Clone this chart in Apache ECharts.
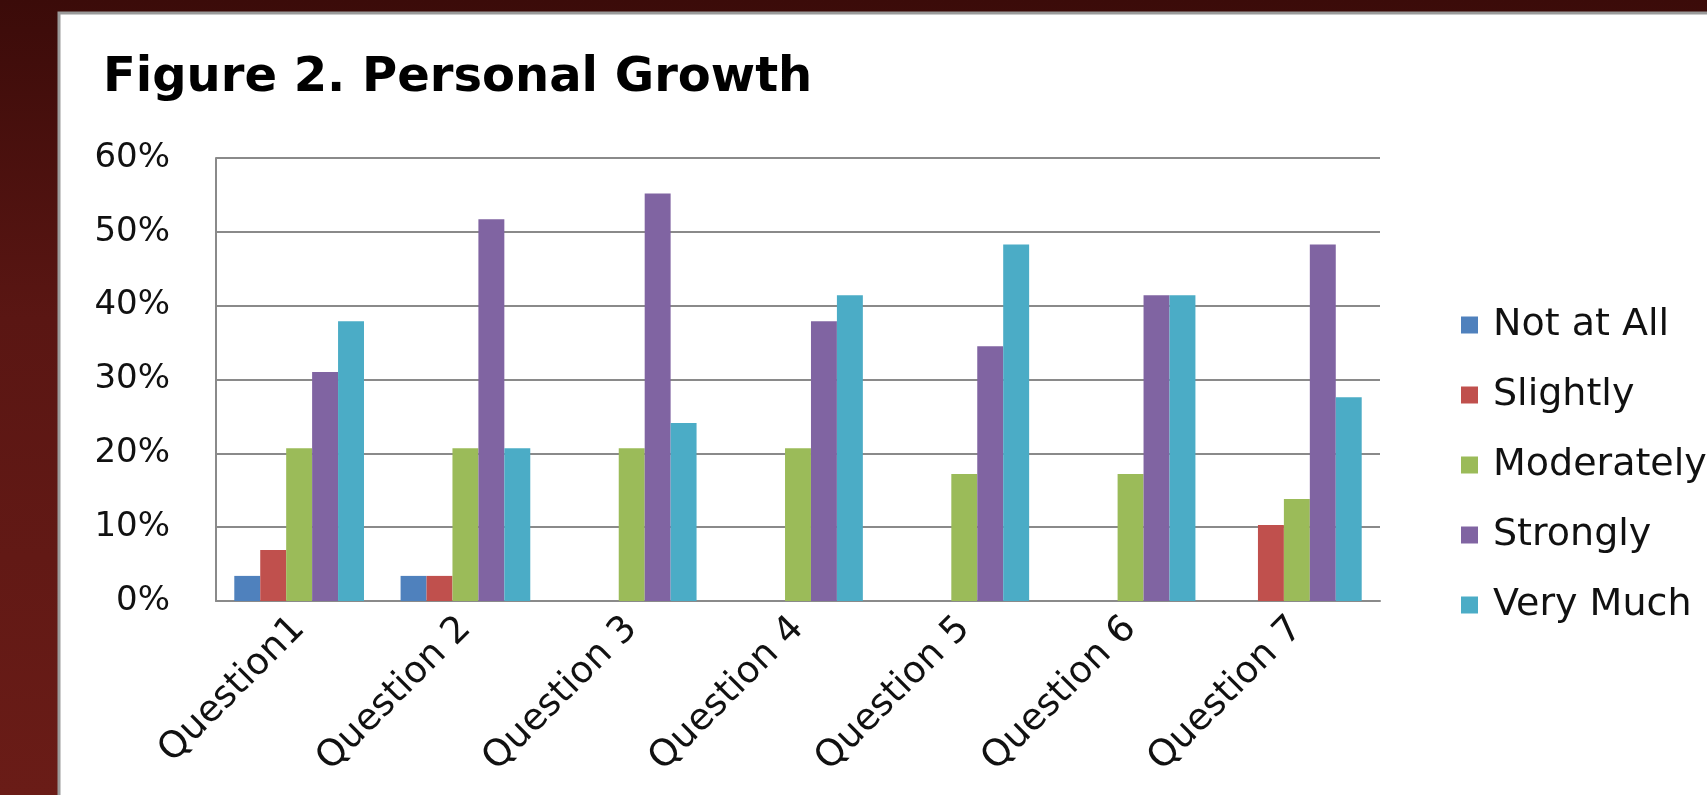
<!DOCTYPE html>
<html>
<head>
<meta charset="utf-8">
<script src="https://cdn.jsdelivr.net/npm/echarts@6/dist/echarts.min.js"></script>
<style>
html,body{margin:0;padding:0;background:#4a1210;}
#chart{width:1707px;height:795px;}
</style>
</head>
<body>
<div id="chart"></div>
<script>
const categories = ['Question1', 'Question 2', 'Question 3', 'Question 4', 'Question 5', 'Question 6', 'Question 7'];
const notAtAll   = [3.4, 3.4, 0, 0, 0, 0, 0];
const slightly   = [6.9, 3.4, 0, 0, 0, 0, 10.3];
const moderately = [20.7, 20.7, 20.7, 20.7, 17.2, 17.2, 13.8];
const strongly   = [31.0, 51.7, 55.2, 37.9, 34.5, 41.4, 48.3];
const veryMuch   = [37.9, 20.7, 24.1, 41.4, 48.3, 41.4, 27.6];
const yTicks = [0, 10, 20, 30, 40, 50, 60];

const seriesDefs = [
  ['Not at All', notAtAll, '#4F81BD'],
  ['Slightly', slightly, '#C0504D'],
  ['Moderately', moderately, '#9BBB59'],
  ['Strongly', strongly, '#8064A2'],
  ['Very Much', veryMuch, '#4BACC6']
];

const chart = echarts.init(document.getElementById('chart'));
chart.setOption({
  animation: false,
  graphic: [
    {type:'rect', z:-10, silent:true, shape:{x:0,y:0,width:1707,height:795},
     style:{fill:new echarts.graphic.LinearGradient(0,0,0,1,[
       {offset:0,color:'#3b0b09'},{offset:0.4,color:'#5a1613'},{offset:1,color:'#6a1c17'}])}},
    {type:'rect', z:-9, silent:true, shape:{x:59,y:13,width:1700,height:820},
     style:{fill:'#ffffff', stroke:'#9a9a9a', lineWidth:3}},
    {type:'text', left:103, top:55, z:10,
     style:{text:'Figure 2. Personal Growth', fontFamily:'DejaVu Sans', fontWeight:'bold', fontSize:48, fill:'#000'}}
  ],
  grid: {left:216, right:327, top:158, bottom:194, containLabel:false},
  legend: {
    orient:'vertical', left:1456, top:300, itemGap:30,
    icon:'rect', itemWidth:17, itemHeight:17,
    textStyle:{fontFamily:'DejaVu Sans', fontSize:38, color:'#111', lineHeight:40, padding:[0,0,0,10]},
    data: seriesDefs.map(d => d[0])
  },
  xAxis: {
    type:'category', data:categories,
    axisLine:{show:true, lineStyle:{color:'#8a8a8a', width:2}},
    axisTick:{show:false},
    axisLabel:{rotate:45, margin:22, fontFamily:'DejaVu Sans', fontSize:37, color:'#111', interval:0}
  },
  yAxis: {
    type:'value', min:0, max:60, interval:10,
    axisLine:{show:true, lineStyle:{color:'#8a8a8a', width:2}},
    axisTick:{show:false},
    splitLine:{show:true, lineStyle:{color:'#8a8a8a', width:2}},
    axisLabel:{margin:46, fontFamily:'DejaVu Sans', fontSize:34, color:'#111',
      formatter: v => yTicks.includes(v) ? v + '%' : ''}
  },
  series: seriesDefs.map(d => ({
    name:d[0], type:'bar', data:d[1], barGap:'0%', barCategoryGap:'22%',
    itemStyle:{color:d[2]}
  }))
});
</script>
</body>
</html>
